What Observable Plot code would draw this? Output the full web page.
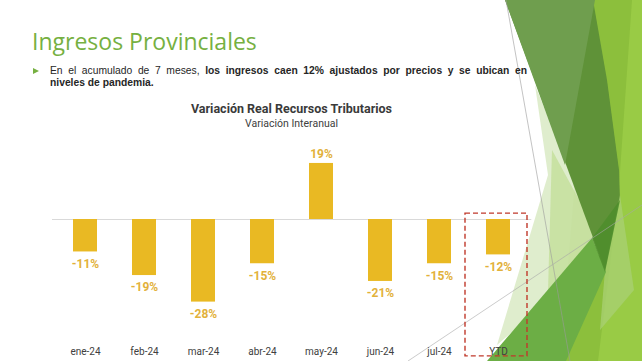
<!DOCTYPE html>
<html><head><meta charset="utf-8">
<script src="https://cdn.jsdelivr.net/npm/d3@7"></script>
<script src="https://cdn.jsdelivr.net/npm/@observablehq/plot@0.6"></script>
<style>
html,body{margin:0;padding:0;background:#fff;}
#slide{position:relative;width:642px;height:361px;overflow:hidden;background:#fff;}
#deco{position:absolute;left:0;top:0;}
.t{position:absolute;white-space:nowrap;}
#title{left:32px;top:30px;font:23px/23px "Open Sans",sans-serif;color:#76b041;}
#bullet{position:absolute;left:33px;top:68px;}
#para{position:absolute;left:50px;top:64.5px;width:477px;font:10.3px/12px "Liberation Sans",Arial,sans-serif;color:#262626;}
#para .l1{text-align:justify;text-align-last:justify;white-space:nowrap;}
#ctitle{left:0;width:583px;text-align:center;top:101px;font:bold 12.5px/15px Roboto,sans-serif;color:#3a3a3a;}
#csub{left:0;width:583px;text-align:center;top:117px;font:10.5px/13px Roboto,sans-serif;color:#404040;}
#chart{position:absolute;left:0;top:130px;}
</style></head>
<body>
<div id="slide">
  <svg id="deco" width="642" height="361"></svg>
  <div class="t" id="title">Ingresos Provinciales</div>
  <svg id="bullet" width="7" height="7"><polygon points="0,0 6,3 0,6" fill="#76b041"/></svg>
  <div id="para">
    <div class="l1">En el acumulado de 7 meses, <b>los ingresos caen 12% ajustados por precios y se ubican en</b></div>
    <div><b>niveles de pandemia.</b></div>
  </div>
  <div class="t" id="ctitle">Variación Real Recursos Tributarios</div>
  <div class="t" id="csub">Variación Interanual</div>
  <div id="chart"></div>
</div>
<script>
// Data
const months = ["ene-24","feb-24","mar-24","abr-24","may-24","jun-24","jul-24","YTD"];
const variation = [-11,-19,-28,-15,19,-21,-15,-12];
const highlighted = ["YTD"];
const highlightTop = 2;      // highlight box extent in % units
const highlightBottom = -46.4;

const data = months.map((m,i)=>({month:m, value:variation[i]}));

// Decorative theme shapes (slide background)
const decoPolys = [
  {p:"590,0 642,0 642,361 560,361", f:"#8cbf3c", o:1},
  {p:"632,0 642,0 642,361 598,361 618,200", f:"#9bcc47", o:0.85},
  {p:"535,85 548,175 497,345 600,255 590,220", f:"#dcebc8", o:0.9},
  {p:"552,150 590,220 600,255 548,292", f:"#c3de9a", o:0.8},
  {p:"505,0 593,0 607,80 619,170 620,200 605,270", f:"#5f9238", o:1},
  {p:"505,0 595,0 565,165", f:"#6f9e4e", o:1},
  {p:"605,270 620,195 634,290 600,330", f:"#a8d070", o:0.8},
  {p:"487,361 592,238 606,272 566,361", f:"#6cae45", o:1},
  {p:"592,238 620,200 605,272", f:"#4f8e2c", o:0.9}
];
const deco = d3.select("#deco");
decoPolys.forEach(d=>deco.append("polygon").attr("points",d.p).attr("fill",d.f).attr("opacity",d.o));
deco.append("line").attr("x1",506).attr("y1",0).attr("x2",570).attr("y2",361).attr("stroke","#9a9a9a").attr("stroke-width",0.6);
deco.append("line").attr("x1",408).attr("y1",361).attr("x2",642).attr("y2",205).attr("stroke","#a8a8a8").attr("stroke-width",0.6);

const chart = Plot.plot({
  width:642, height:231,
  marginLeft:52, marginRight:110.7, marginTop:15.25, marginBottom:38.75,
  style:{background:"transparent", fontFamily:"Roboto, sans-serif", color:"#404040", overflow:"visible"},
  x:{domain:months, paddingInner:0.6, paddingOuter:0.3, axis:null},
  y:{domain:[-35,25], axis:null},
  marks:[
    Plot.ruleY([0],{stroke:"#d9d9d9", strokeWidth:1}),
    Plot.barY(data,{x:"month", y:"value", fill:"#e9b923"}),
    Plot.text(data.filter(d=>d.value<0),{x:"month", y:"value", text:d=>d.value+"%", dy:12, fill:"#e2b13a", fontWeight:"bold", fontSize:12}),
    Plot.text(data.filter(d=>d.value>=0),{x:"month", y:"value", text:d=>d.value+"%", dy:-9, fill:"#e2b13a", fontWeight:"bold", fontSize:12}),
    Plot.axisX({tickSize:0, tickPadding:25, fontSize:10, label:null}),
    Plot.barY(highlighted,{x:d=>d, y1:()=>highlightTop, y2:()=>highlightBottom, fill:"none", stroke:"#c0392b", strokeWidth:1.4, strokeDasharray:"5,3", insetLeft:-21, insetRight:-17})
  ]
});
document.getElementById("chart").append(chart);
</script>
</body></html>
